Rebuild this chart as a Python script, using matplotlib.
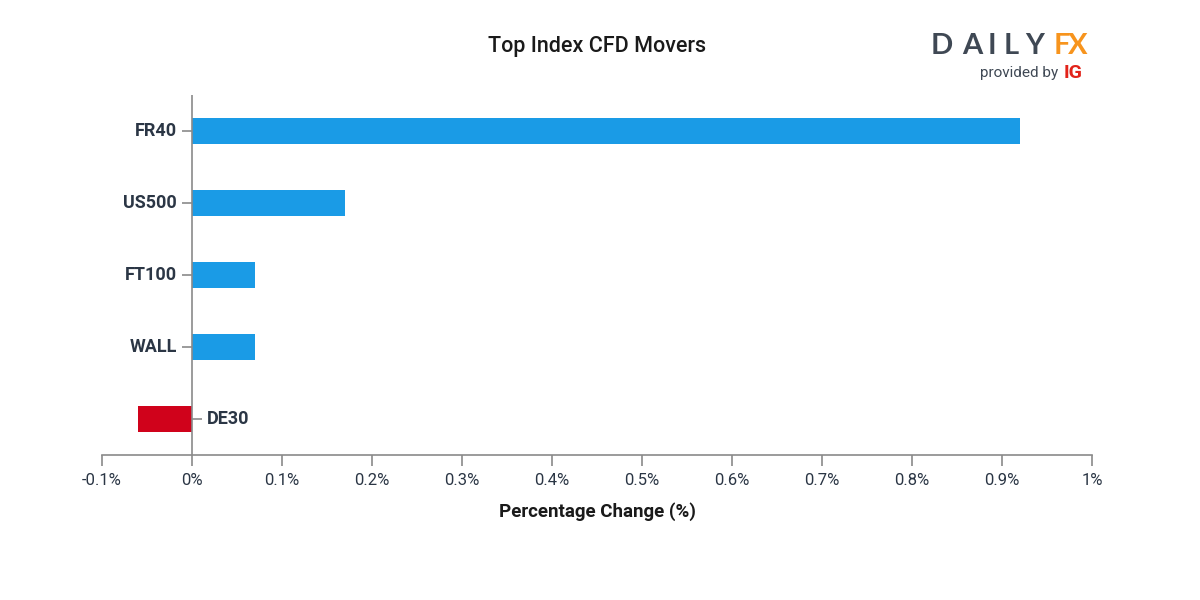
import matplotlib.pyplot as plt

# Datos
categories = ['FR40', 'US500', 'FT100', 'WALL', 'DE30']
values = [0.92, 0.17, 0.07, 0.07, -0.06]
xticks = [-0.1, 0, 0.1, 0.2, 0.3, 0.4, 0.5, 0.6, 0.7, 0.8, 0.9, 1.0]
xtick_labels = ['-0.1%', '0%', '0.1%', '0.2%', '0.3%', '0.4%', '0.5%',
                '0.6%', '0.7%', '0.8%', '0.9%', '1%']

blue = '#1a9be6'
red = '#d0021b'
dark = '#2b3645'
grey = '#8a8a8a'

plt.rcParams['font.family'] = ['Roboto', 'DejaVu Sans']

fig = plt.figure(figsize=(12, 6), dpi=100)
ax = fig.add_axes([0.085, 0.2417, 0.825, 0.6])

colors = [blue if v >= 0 else red for v in values]
pos = list(range(len(categories)))
ax.barh(pos, values, height=0.36, color=colors)
ax.set_ylim(len(categories) - 0.5, -0.5)
ax.set_xlim(-0.1, 1.0)

# ejes
for s in ['top', 'right', 'left']:
    ax.spines[s].set_visible(False)
ax.spines['bottom'].set_color(grey)
ax.spines['bottom'].set_linewidth(1.2)
ax.axvline(0, color=grey, lw=1.2, zorder=3)

ax.set_xticks(xticks)
ax.set_xticklabels(xtick_labels, fontsize=12, color=dark)
ax.tick_params(axis='x', length=8, width=1.2, color=grey, pad=5)
ax.set_yticks([])

# etiquetas de categoria junto al eje cero
for i, (c, v) in enumerate(zip(categories, values)):
    if v >= 0:
        ax.plot(0, i, marker=0, markersize=7, color=grey, mew=1.2,
                clip_on=False, zorder=4)
        ax.annotate(c, (0, i), xytext=(-11, 0), textcoords='offset points',
                    ha='right', va='center', fontsize=13, fontweight='bold',
                    color=dark)
    else:
        ax.plot(0, i, marker=1, markersize=7, color=grey, mew=1.2,
                clip_on=False, zorder=4)
        ax.annotate(c, (0, i), xytext=(11, 0), textcoords='offset points',
                    ha='left', va='center', fontsize=13, fontweight='bold',
                    color=dark)

ax.set_xlabel('Percentage Change (%)', fontsize=13.5, fontweight='bold',
              color='#1a1a1a', labelpad=10)

fig.text(0.4975, 0.923, 'Top Index CFD Movers', ha='center', va='center',
         fontsize=15.5, fontweight='medium', color='#1a1a1a')

# logo
logo_letters = ['D', 'A', 'I', 'L', 'Y', 'F', 'X']
logo_x = [942, 972, 992, 1011, 1035, 1062, 1078]
for ch, x in zip(logo_letters, logo_x):
    col = '#f7941d' if ch in 'FX' else '#3f4854'
    fig.text(x / 1200, 1 - 46 / 600, ch, ha='center', va='center',
             fontsize=21, fontweight='bold', color=col, family='Lato')
fig.text(1058 / 1200, 1 - 73 / 600, 'provided by', ha='right', va='center',
         fontsize=11, color='#3f4854')
fig.text(1064 / 1200, 1 - 73 / 600, 'IG', ha='left', va='center',
         fontsize=14, fontweight='bold', color='#e2231a')

fig.savefig('out.png', dpi=100, facecolor='white')
